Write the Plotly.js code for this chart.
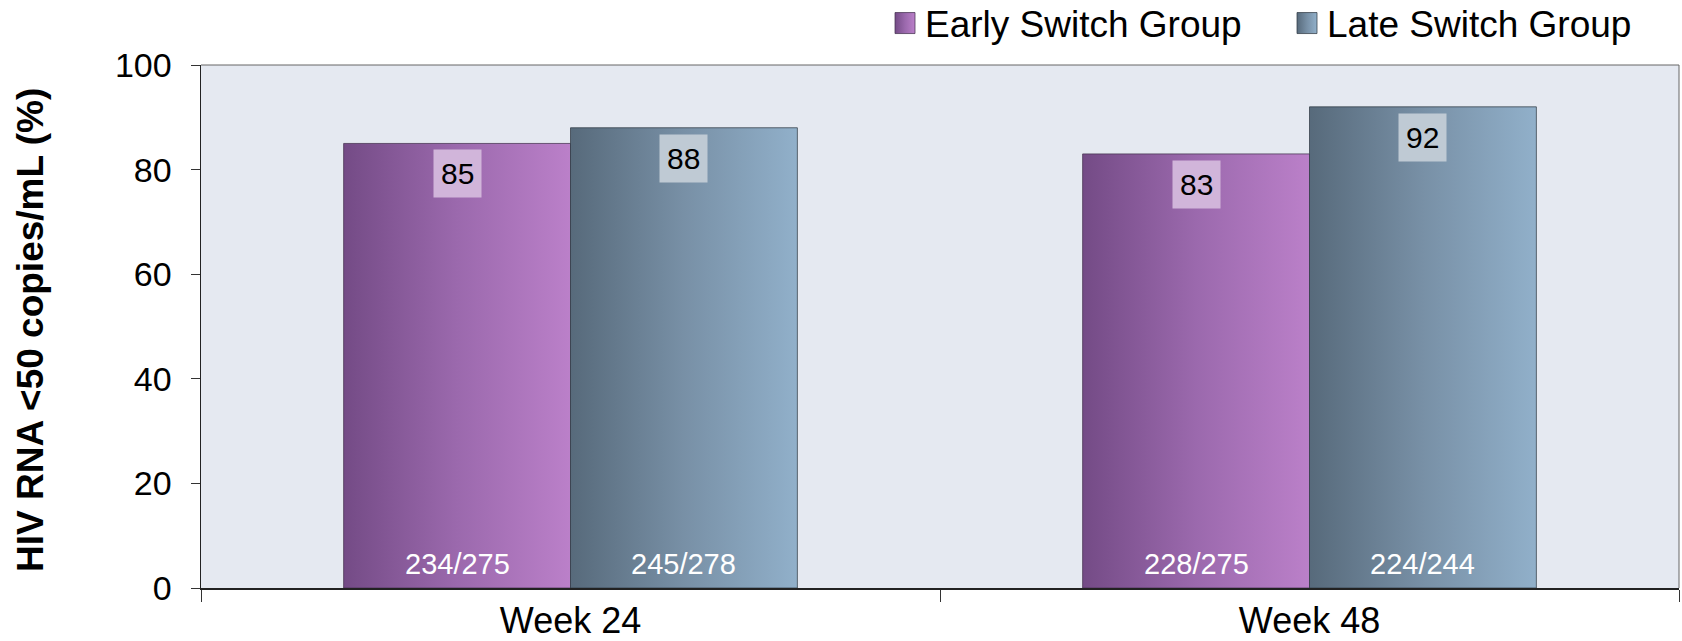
<!DOCTYPE html>
<html><head><meta charset="utf-8">
<script src="https://cdn.plot.ly/plotly-3.0.1.min.js"></script>
<style>html,body{margin:0;padding:0;background:#fff}#chart{width:1682px;height:641px}</style>
</head><body><div id="chart"></div>
<script>
const categories = ['Week 24', 'Week 48'];
const seriesNames = ['Early Switch Group', 'Late Switch Group'];
const earlyValues = [85, 83];
const lateValues = [88, 92];
const earlyCounts = ['234/275', '228/275'];
const lateCounts = ['245/278', '224/244'];
const yTickVals = [0, 20, 40, 60, 80, 100];
const yTitle = 'HIV RNA <50 copies/mL (%)';

const FONT = 'Arial, "Liberation Sans", sans-serif';
const W = 1682, H = 641;
const margin = {l: 201, r: 3, t: 65, b: 53, pad: 0, autoexpand: false};
const bargap = 0.386;

const traces = [
  {type: 'bar', name: seriesNames[0], x: categories, y: earlyValues, legend: 'legend',
   marker: {color: '#9a68ab', line: {color: 'rgba(70,50,80,0.75)', width: 1}}, hoverinfo: 'none'},
  {type: 'bar', name: seriesNames[1], x: categories, y: lateValues, legend: 'legend2',
   marker: {color: '#7590a8', line: {color: 'rgba(50,60,70,0.75)', width: 1}}, hoverinfo: 'none'}
];

const plotW = W - margin.l - margin.r;
const plotH = H - margin.t - margin.b;
const barOffsetPx = plotW / categories.length * (1 - bargap) / 4;

const annotations = [];
const series = [
  {vals: earlyValues, counts: earlyCounts, sign: -1, box: '#d1b5da'},
  {vals: lateValues, counts: lateCounts, sign: 1, box: '#bfcad4'}
];
series.forEach(s => {
  categories.forEach((c, i) => {
    annotations.push({x: c, y: s.vals[i], xref: 'x', yref: 'y', xshift: s.sign * barOffsetPx,
      yanchor: 'top', yshift: -6, text: String(s.vals[i]), showarrow: false,
      bgcolor: s.box, borderpad: 7, font: {family: FONT, size: 30, color: '#000'}});
    annotations.push({x: c, y: 0, xref: 'x', yref: 'y', xshift: s.sign * barOffsetPx,
      yanchor: 'bottom', yshift: 6, text: s.counts[i], showarrow: false,
      font: {family: FONT, size: 29, color: '#fff'}});
  });
});
// y-axis title drawn as rotated annotation for exact placement
annotations.push({xref: 'paper', yref: 'paper', x: (30.5 - margin.l) / plotW, y: (H - margin.b - 330.5) / plotH,
  xanchor: 'center', yanchor: 'middle', textangle: -90, showarrow: false, text: yTitle,
  font: {family: FONT, size: 37, color: '#000', weight: 'bold'}});

const legendY = 1 + (margin.t - 23.5) / plotH;
const legendBase = {orientation: 'h', xanchor: 'left', y: legendY, yanchor: 'middle',
  font: {family: FONT, size: 37, color: '#000'}, itemwidth: 30, bgcolor: 'rgba(0,0,0,0)', borderwidth: 0};

const layout = {
  width: W, height: H, margin: margin,
  paper_bgcolor: '#fff', plot_bgcolor: '#e5e9f1',
  barmode: 'group', bargap: bargap, bargroupgap: 0,
  font: {family: FONT, color: '#000'},
  showlegend: true,
  legend: Object.assign({}, legendBase, {x: (885 - margin.l) / plotW}),
  legend2: Object.assign({}, legendBase, {x: (1287 - margin.l) / plotW}),
  xaxis: {type: 'category', tickson: 'boundaries', ticks: 'outside', ticklen: 12, tickwidth: 1,
    tickcolor: '#333', showline: true, linecolor: '#222', linewidth: 1.5, mirror: false,
    showgrid: false, zeroline: false, tickfont: {family: FONT, size: 36, color: '#000'},
    automargin: false, fixedrange: true},
  yaxis: {range: [0, 100], tickvals: yTickVals, ticks: 'outside', ticklen: 9, tickwidth: 1,
    tickcolor: '#333', showline: true, linecolor: '#222', linewidth: 1.5, mirror: false,
    showgrid: false, zeroline: false, tickfont: {family: FONT, size: 34, color: '#000'},
    ticklabelstandoff: 12, automargin: false, fixedrange: true},
  shapes: [
    {type: 'line', xref: 'paper', yref: 'paper', x0: 0, x1: 1, y0: 1, y1: 1, line: {color: '#666', width: 1}},
    {type: 'line', xref: 'paper', yref: 'paper', x0: 1, x1: 1, y0: 0, y1: 1, line: {color: '#666', width: 1}}
  ],
  annotations: annotations
};

function addGradients(gd) {
  const svg = gd.querySelector('.main-svg');
  const NS = 'http://www.w3.org/2000/svg';
  let defs = svg.querySelector('defs');
  if (!defs) { defs = document.createElementNS(NS, 'defs'); svg.insertBefore(defs, svg.firstChild); }
  const grads = [
    {id: 'gEarly', stops: ['#744b86', '#9b69ad', '#bb80c9']},
    {id: 'gLate', stops: ['#576a7b', '#7890a6', '#91b0ca']}
  ];
  grads.forEach(g => {
    const lg = document.createElementNS(NS, 'linearGradient');
    lg.setAttribute('id', g.id); lg.setAttribute('x1', '0'); lg.setAttribute('x2', '1');
    lg.setAttribute('y1', '0'); lg.setAttribute('y2', '0');
    g.stops.forEach((c, k) => {
      const st = document.createElementNS(NS, 'stop');
      st.setAttribute('offset', (k / (g.stops.length - 1)).toString());
      st.setAttribute('stop-color', c);
      lg.appendChild(st);
    });
    defs.appendChild(lg);
  });
  const traceGroups = gd.querySelectorAll('.barlayer .trace');
  traceGroups.forEach((tg, t) => {
    tg.querySelectorAll('path').forEach(p => { p.style.fill = 'url(#' + grads[t].id + ')'; });
  });
  const legends = [gd.querySelector('.legend'), gd.querySelector('.legend2')];
  legends.forEach((lgd, t) => {
    if (!lgd) return;
    lgd.querySelectorAll('.legendpoints path').forEach(p => {
      p.setAttribute('d', 'M10,10.5H-10V-10.5H10Z');
      p.style.fill = 'url(#' + grads[t].id + ')';
    });
  });
}

Plotly.newPlot('chart', traces, layout, {staticPlot: true, displayModeBar: false}).then(addGradients);
</script>
</body></html>
